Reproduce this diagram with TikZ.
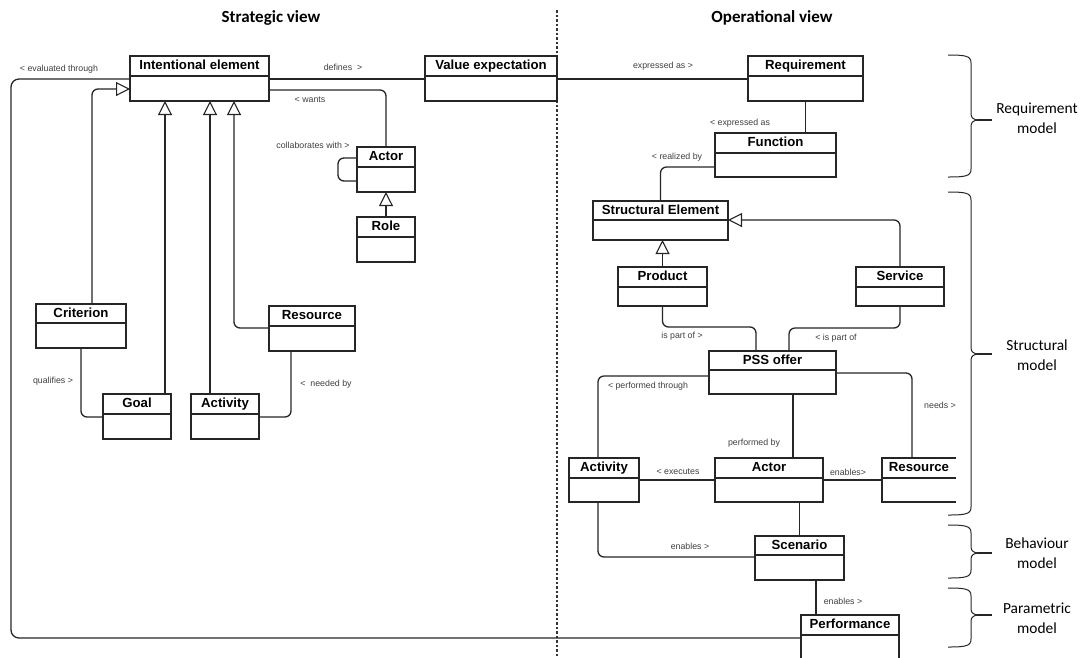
\documentclass[tikz,border=0pt]{standalone}
\usepackage{fontspec}
\setmainfont{Liberation Sans}
\newfontfamily\calfont{Carlito}
\usetikzlibrary{arrows.meta,calc}
\tikzset{
 cls/.style={draw=black!85, line width=1.1pt, inner sep=0pt, outer sep=0pt, rectangle},
 clsline/.style={draw=black!85, line width=1.1pt},
 clstitle/.style={font=\fontsize{13.2}{14}\selectfont\bfseries, text height=9.5pt, text depth=2.5pt, inner sep=0pt, text=black},
 conn/.style={draw=black!85, line width=1.3pt, rounded corners=6pt},
 gen/.style={conn, -{Triangle[fill=white, length=14pt, width=14pt, line width=1.1pt]}},
 lbl/.style={font=\fontsize{8.8}{10}\selectfont, text=black!75, inner sep=0pt},
 viewtitle/.style={font=\calfont\fontsize{17}{20}\selectfont\bfseries},
 modeltxt/.style={font=\calfont\fontsize{15.4}{20.5}\selectfont, align=center},
 bracepath/.style={draw=black!85, line width=1pt},
 dashline/.style={draw=black!80, line width=1.1pt, dash pattern=on 2.5pt off 2pt},
}
\newcommand\umlcls[7]{%
  \node[cls, minimum width={(#4-#2)*1pt}, minimum height={(#5-#3)*1pt}] (#1) at ({(#2+#4)/2},{(#3+#5)/2}) {};
  \draw[clsline] (#2,#6) -- (#4,#6);
  \node[clstitle] (#1-t) at ({(#2+#4)/2},{(#3+#6)/2}) {#7};
}
\newcommand\mbrace[3]{%
  \draw[bracepath] (948,#1) .. controls (966,#1) and (971,#1+1) .. (971,#1+8) -- (971,#2-6)
     .. controls (971,#2-2) and (974,#2) .. (979,#2) .. controls (974,#2) and (971,#2+2) .. (971,#2+6)
     -- (971,#3-8) .. controls (971,#3-1) and (966,#3) .. (948,#3);
  \draw[bracepath, line width=1.4pt] (977,#2) -- (992,#2);
}
\begin{document}
\begin{tikzpicture}[x=1pt,y=-1pt]
\useasboundingbox (0,0) rectangle (1083,657);
\clip (0,0) rectangle (1083,657);
\fill[white] (0,0) rectangle (1083,657);

\node[viewtitle] (tS) at (271,18) {Strategic view};
\node[viewtitle] (tO) at (772,18) {Operational view};
\draw[dashline] (557,10) -- (557,657);

% boxes
\umlcls{ie}{130}{56}{269}{101}{76}{Intentional element}
\umlcls{ve}{425}{56}{557}{101}{76}{Value expectation}
\umlcls{actS}{357}{147}{415}{192}{167}{Actor}
\umlcls{role}{357}{217}{415}{262}{237}{Role}
\umlcls{crit}{36}{304}{126}{348}{323}{Criterion}
\umlcls{goal}{103}{394}{171}{439}{414}{Goal}
\umlcls{actvS}{191}{394}{259}{439}{414}{Activity}
\umlcls{resS}{269}{306}{355}{351}{326}{Resource}
\umlcls{req}{748}{56}{863}{101}{76}{Requirement}
\umlcls{func}{715}{133}{836}{177}{153}{Function}
\umlcls{se}{593}{201}{728}{240}{220}{Structural Element}
\umlcls{prod}{618}{267}{707}{306}{287}{Product}
\umlcls{serv}{856}{267}{944}{306}{287}{Service}
\umlcls{pss}{709}{351}{836}{394}{370}{PSS offer}
\umlcls{actvO}{569}{458}{639}{502}{478}{Activity}
\umlcls{actO}{715}{458}{823}{502}{478}{Actor}
\umlcls{scen}{755}{536}{844}{580}{555}{Scenario}
\umlcls{perf}{801}{615}{899}{680}{635}{Performance}
% cut-off resource box
\node[inner sep=0pt, outer sep=0pt, minimum width=74pt, minimum height=44pt] (res2) at (919,480) {};
\draw[clsline] (956,458) -- (882,458) -- (882,502) -- (956,502);
\draw[clsline] (882,478) -- (956,478);
\node[clstitle] (res2-t) at (919,468) {Resource};

% strategic connectors
\draw[conn] (ie.east |- 0,79) -- (ve.west |- 0,79);
\draw[conn] (ie.east |- 0,90) -| (actS.north);
\draw[conn] (actS.west |- 0,158) -- (338,158) -- (338,181) -- (actS.west |- 0,181);
\draw[gen] (role.north) -- (actS.south);
\coordinate (cg) at ($(crit.north west)+(56,0)$);
\draw[gen] (cg) |- (ie.west |- 0,89);
\coordinate (gg) at ($(goal.north west)+(62,0)$);
\draw[gen] (gg) -- (gg |- ie.south);
\coordinate (ag) at ($(actvS.north west)+(19,0)$);
\draw[gen] (ag) -- (ag |- ie.south);
\coordinate (rg) at ($(ie.south west)+(104,0)$);
\draw[gen] (resS.west |- 0,328) -| (rg);
\draw[conn] (crit.south) |- (goal.west |- 0,417);
\coordinate (rn) at ($(resS.south west)+(22,0)$);
\draw[conn] (rn) |- (actvS.east |- 0,417);
\draw[conn, rounded corners=8pt] (perf.west |- 0,638) -- (11,638) -- (11,79) -- (ie.west |- 0,79);

% operational connectors
\draw[conn] (ve.east |- 0,79) -- (req.west |- 0,79);
\draw[conn] (req.south) -- (req.south |- func.north);
\draw[conn] (func.west |- 0,167) -| (se.north);
\draw[gen] (serv.north) |- (se.east |- 0,220);
\draw[gen] (prod.north) -- (prod.north |- se.south);
\coordinate (pa) at ($(pss.north west)+(47,0)$);
\coordinate (pb) at ($(pss.north west)+(80,0)$);
\draw[conn] (prod.south) |- ($(pa)+(0,-24)$) -- (pa);
\draw[conn] (serv.south) |- ($(pb)+(0,-23)$) -- (pb);
\coordinate (ao) at ($(actvO.north west)+(29,0)$);
\draw[conn] (pss.west |- 0,376) -| (ao);
\coordinate (rt) at ($(res2.north west)+(30,0)$);
\draw[conn] (pss.east |- 0,373) -| (rt);
\coordinate (ps) at ($(pss.south west)+(84,0)$);
\draw[conn] (ps) -- (ps |- actO.north);
\draw[conn] (actvO.east |- 0,480) -- (actO.west |- 0,480);
\draw[conn] (actO.east |- 0,480) -- (res2.west |- 0,480);
\draw[conn] (actO.south -| scen.north) -- (scen.north);
\coordinate (as) at ($(actvO.south west)+(29,0)$);
\draw[conn] (as) |- (scen.west |- 0,557);
\coordinate (sb) at ($(scen.south west)+(61,0)$);
\draw[conn] (sb) -- (sb |- perf.north);

% connector labels
\node[lbl] (l1) at (343,67) {defines\ \ >};
\node[lbl] (l2) at (663,66) {expressed as >};
\node[lbl] (l3) at (310,100) {< wants};
\node[lbl] (l4) at (313,145) {collaborates with >};
\node[lbl] (l5) at (740,123) {< expressed as};
\node[lbl] (l6) at (677,157) {< realized by};
\node[lbl] (l7) at (682,336) {is part of >};
\node[lbl] (l8) at (836,338) {< is part of};
\node[lbl] (l9) at (648,386) {< performed through};
\node[lbl] (l10) at (940,405) {needs >};
\node[lbl] (l11) at (754,443) {performed by};
\node[lbl] (l12) at (678,472) {< executes};
\node[lbl] (l13) at (848,472) {enables>};
\node[lbl] (l14) at (690,546) {enables >};
\node[lbl] (l15) at (843,601) {enables >};
\node[lbl] (l16) at (59,69) {< evaluated through};
\node[lbl] (l17) at (53,381) {qualifies >};
\node[lbl] (l18) at (326,384) {<\ \ needed by};

% braces and model labels
\mbrace{55}{120}{177}
\mbrace{192}{354}{515}
\mbrace{525}{553}{578}
\mbrace{588}{615}{647}
\node[modeltxt] (m1) at (1037,118) {Requirement\\model};
\node[modeltxt] (m2) at (1037,355) {Structural\\model};
\node[modeltxt] (m3) at (1037,553) {Behaviour\\model};
\node[modeltxt] (m4) at (1037,618) {Parametric\\model};
\end{tikzpicture}
\end{document}
